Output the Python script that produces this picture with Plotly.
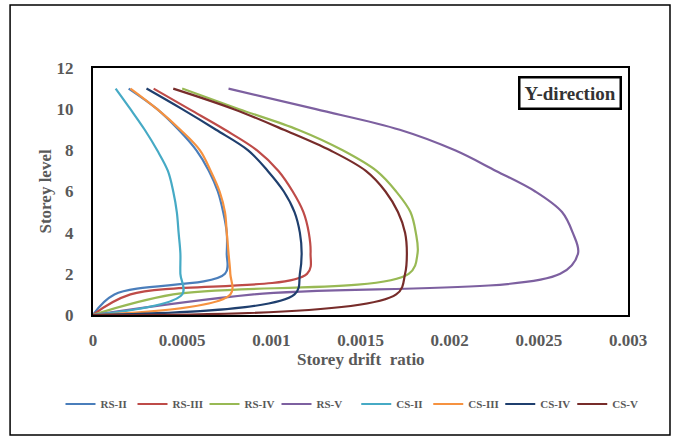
import plotly.graph_objects as go

levels = [0, 1, 2, 3, 4, 5, 6, 7, 8, 9, 10, 11]

series_names = ["RS-II", "RS-III", "RS-IV", "RS-V", "CS-II", "CS-III", "CS-IV", "CS-V"]

rs_ii  = [0, 0.00012, 0.00074, 0.00075, 0.00075, 0.00073, 0.00070, 0.00065, 0.00058, 0.00048, 0.00036, 0.00020]
rs_iii = [0, 0.00021, 0.00120, 0.00122, 0.00121, 0.00118, 0.00112, 0.00104, 0.00092, 0.00074, 0.00054, 0.00034]
rs_iv  = [0, 0.00045, 0.00177, 0.00182, 0.00181, 0.00178, 0.00170, 0.00159, 0.00140, 0.00115, 0.00082, 0.00050]
rs_v   = [0, 0.00090, 0.00262, 0.00272, 0.00269, 0.00263, 0.00248, 0.00226, 0.00203, 0.00172, 0.00125, 0.00076]
cs_ii  = [0, 0.00050, 0.00049, 0.00049, 0.00048, 0.00047, 0.00045, 0.00042, 0.00036, 0.00029, 0.00021, 0.000127]
cs_iii = [0, 0.00077, 0.00077, 0.00076, 0.00075, 0.00074, 0.00071, 0.00066, 0.00060, 0.00049, 0.00036, 0.00021]
cs_iv  = [0, 0.00113, 0.00116, 0.00117, 0.00116, 0.00113, 0.00107, 0.00098, 0.00087, 0.00069, 0.00050, 0.00030]
cs_v   = [0, 0.00170, 0.00175, 0.00176, 0.00175, 0.00171, 0.00164, 0.00153, 0.00133, 0.00107, 0.00079, 0.00045]

series_values = [rs_ii, rs_iii, rs_iv, rs_v, cs_ii, cs_iii, cs_iv, cs_v]
series_colors = ["#4A7EBB", "#BE4B48", "#98B954", "#7D60A0", "#46AAC5", "#F69240", "#1F3F6E", "#772C2A"]

x_tick_vals = [0, 0.0005, 0.001, 0.0015, 0.002, 0.0025, 0.003]
x_tick_text = ["0", "0.0005", "0.001", "0.0015", "0.002", "0.0025", "0.003"]
y_tick_vals = [0, 2, 4, 6, 8, 10, 12]

serif = "Liberation Serif"
gray = "#595959"

fig = go.Figure()
for i, (name, vals, col) in enumerate(zip(series_names, series_values, series_colors)):
    fig.add_trace(go.Scatter(
        x=vals, y=levels, name=name, mode="lines",
        legend="legend" if i < 4 else "legend2",
        line=dict(color=col, width=2.2, shape="spline", smoothing=1.0),
    ))

legend_common = dict(
    orientation="h", xref="container", xanchor="left",
    y=0.0776, yref="container", yanchor="middle",
    font=dict(family=serif, size=11, color=gray, weight="bold"),
    itemwidth=30, entrywidth=27, entrywidthmode="pixels", tracegroupgap=0,
    bgcolor="rgba(0,0,0,0)",
)

fig.update_layout(
    width=676, height=438,
    margin=dict(l=93, r=48, t=68, b=123, autoexpand=False),
    paper_bgcolor="white", plot_bgcolor="white",
    showlegend=True,
    legend=dict(legend_common, x=0.0895),
    legend2=dict(legend_common, x=0.527),
    xaxis=dict(
        range=[0, 0.003], tickvals=x_tick_vals, ticktext=x_tick_text,
        showgrid=False, zeroline=False, showline=True, mirror=True,
        linecolor="black", linewidth=2,
        ticks="outside", ticklen=9, tickcolor="rgba(0,0,0,0)",
        tickfont=dict(family=serif, size=17, color=gray, weight="bold"),
    ),
    yaxis=dict(
        range=[0, 12], tickvals=y_tick_vals,
        showgrid=False, zeroline=False, showline=True, mirror=True,
        linecolor="black", linewidth=2,
        ticks="outside", ticklen=14, tickcolor="rgba(0,0,0,0)",
        tickfont=dict(family=serif, size=17, color=gray, weight="bold"),
    ),
    annotations=[
        dict(text="Storey drift  ratio", xref="paper", yref="paper", x=0.5, y=-0.182,
             showarrow=False, font=dict(family=serif, size=17, color=gray, weight="bold"),
             xanchor="center", yanchor="middle"),
        dict(text="Storey level", xref="paper", yref="paper", x=-0.0897, y=0.5,
             textangle=-90, showarrow=False,
             font=dict(family=serif, size=17, color=gray, weight="bold"),
             xanchor="center", yanchor="middle"),
        dict(text="Y-direction", xref="paper", yref="paper", x=0.8916, y=0.899,
             showarrow=False, font=dict(family=serif, size=19, color="#333333", weight="bold"),
             bordercolor="black", borderwidth=2.5, borderpad=4, bgcolor="white",
             xanchor="center", yanchor="middle"),
    ],
    shapes=[
        dict(type="rect", xref="paper", yref="paper", x0=-0.155, x1=1.0785, y0=-0.486, y1=1.255,
             line=dict(color="black", width=1.5), layer="below"),
    ],
)

fig.write_html("out.html", config={"displayModeBar": False},
               post_script="document.body.style.margin='0';document.body.style.overflow='hidden';")
